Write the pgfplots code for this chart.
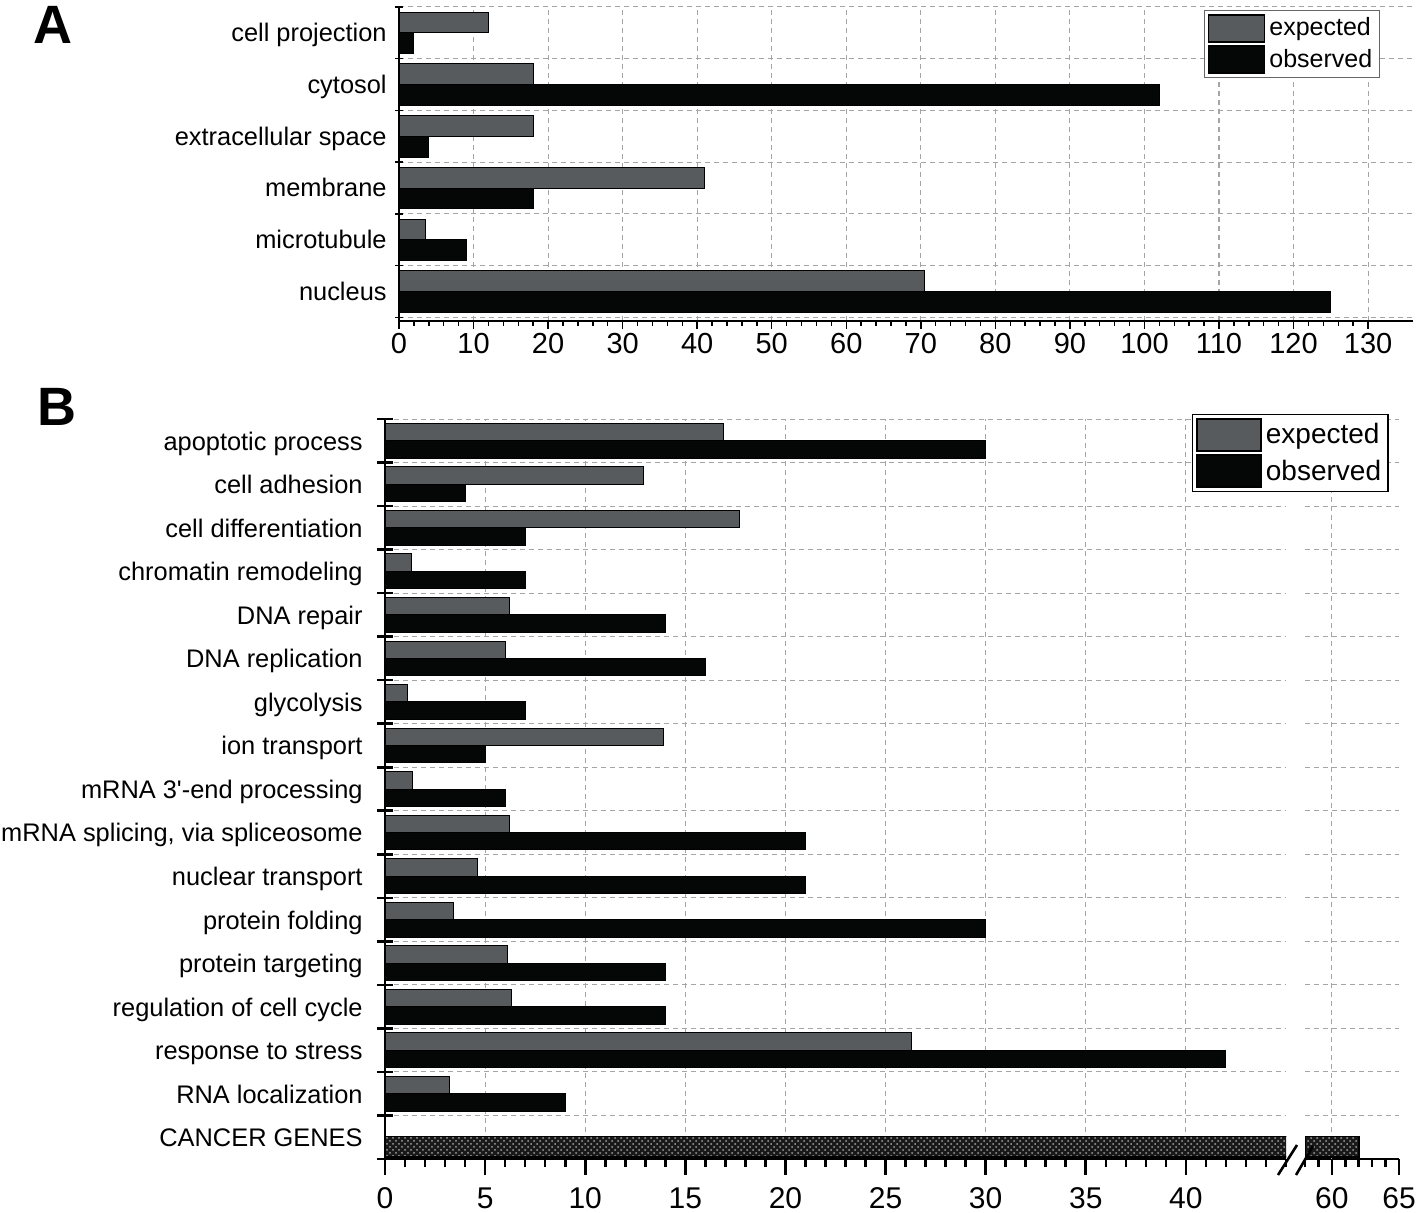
\documentclass[border=0pt]{standalone}
\usepackage{pgfplots}
\pgfplotsset{compat=1.18}
\usepackage{fontspec}
\setmainfont{Liberation Sans}
\usetikzlibrary{patterns}
\definecolor{expgray}{RGB}{88,91,93}
\definecolor{obsblack}{RGB}{5,7,7}
\definecolor{gridgray}{RGB}{165,165,165}
\pgfplotsset{
  legA/.style={legend image code/.code={\draw[##1, line width=0.9pt] (0pt,-6.8pt) rectangle (28pt,6.8pt);}},
  legB/.style={legend image code/.code={\draw[##1, line width=1.1pt] (0pt,-8pt) rectangle (32pt,8pt);}},
  common/.style={
    scale only axis, enlargelimits=false,
    axis x line*=bottom, axis y line*=left,
    xtick align=outside, ytick align=center,
    /pgf/number format/assume math mode=true,
    grid style={dash pattern=on 2.5pt off 2pt, gridgray, line width=0.5pt},
  },
}
\begin{document}
\begin{tikzpicture}
\useasboundingbox (0,0) rectangle (709pt,-606.5pt);
% ---------------- Panel A ----------------
\begin{axis}[common,
  at={(199.5pt,-160.5pt)}, anchor=south west,
  width=506.9pt, height=157pt,
  xmin=0, xmax=136, ymin=-5.57, ymax=0.5,
  axis line style={-, line width=0.75pt, black},
  tick style={black, line width=0.75pt},
  major tick length=4pt, minor tick length=2.5pt,
  xtick={0,10,...,130}, minor x tick num=4,
  ytick={-5.5,-4.5,...,0.5},
  yticklabels={{}, nucleus, microtubule, membrane, extracellular space, cytosol, cell projection},
  yticklabel style={font=\fontsize{12.7}{15}\selectfont, anchor=base east, inner sep=0pt, yshift=-17.4pt, xshift=-4pt},
  xticklabel style={font=\fontsize{14.5}{17}\selectfont, anchor=north, inner sep=0pt, yshift=-2pt},
  xmajorgrids, ymajorgrids,
  legend style={at={(rel axis cs:0.794,0.99)}, anchor=north west, draw=black!60, line width=0.6pt,
     inner sep=1.5pt, font=\fontsize{12.5}{14}\selectfont, row sep=1.2pt},
  legend cell align=left,
]
\addplot[xbar, bar width=0.4, bar shift=0.2, fill=expgray, draw=black, line width=0.5pt, legA]
  coordinates {(12,0) (18,-1) (18.1,-2) (41,-3) (3.5,-4) (70.5,-5)};
\addlegendentry{expected}
\addplot[xbar, bar width=0.4, bar shift=-0.2, fill=obsblack, draw=black, line width=0.5pt, legA]
  coordinates {(2,0) (102,-1) (4,-2) (18,-3) (9,-4) (125,-5)};
\addlegendentry{observed}
\end{axis}
% ---------------- Panel B, right segment ----------------
\begin{axis}[common,
  at={(652.5pt,-579.5pt)}, anchor=south west,
  width=47pt, height=370pt,
  xmin=58, xmax=65, ymin=-16.5, ymax=0.5,
  axis line style={-, line width=1.3pt, black},
  y axis line style={draw=none},
  tick style={black, line width=1.3pt},
  ytick style={draw=none},
  major tick length=8pt, minor tick length=4pt,
  xtick={60,65}, minor xtick={58,59,...,65},
  ytick={-16.5,-15.5,...,0.5}, yticklabels={},
  xticklabel style={font=\fontsize{15}{18}\selectfont, anchor=north, inner sep=0pt, yshift=-6pt},
  ymajorgrids,
  extra x ticks={60}, extra x tick labels={}, extra x tick style={grid=major},
]
\addplot[xbar, bar width=0.48, bar shift=-0.22, fill=black!90, draw=black, line width=0.8pt,
  postaction={pattern=crosshatch dots, pattern color=gray!75}]
  coordinates {(62,-16)};
\end{axis}
% ---------------- Panel B, left segment ----------------
\begin{axis}[common,
  at={(192.5pt,-579.5pt)}, anchor=south west,
  width=450.5pt, height=370pt,
  xmin=0, xmax=45, ymin=-16.5, ymax=0.5,
  axis line style={-, line width=1.3pt, black},
  tick style={black, line width=1.3pt},
  major tick length=8pt, minor tick length=4pt,
  xtick={0,5,...,40}, minor xtick={0,1,...,45},
  ytick={-16.5,-15.5,...,0.5},
  yticklabels={{}, CANCER GENES, RNA localization, response to stress, regulation of cell cycle,
    protein targeting, protein folding, nuclear transport, {mRNA splicing, via spliceosome},
    mRNA 3\textquotesingle-end processing, ion transport, glycolysis, DNA replication, DNA repair,
    chromatin remodeling, cell differentiation, cell adhesion, apoptotic process},
  yticklabel style={font=\fontsize{12.7}{15}\selectfont, anchor=base east, inner sep=0pt, yshift=-15.6pt, xshift=-7pt},
  xticklabel style={font=\fontsize{15}{18}\selectfont, anchor=north, inner sep=0pt, yshift=-6pt},
  xmajorgrids, ymajorgrids,
  legend style={at={(rel axis cs:0.8957,1.0068)}, anchor=north west, draw=black, line width=0.7pt,
     inner sep=1.5pt, font=\fontsize{14}{16}\selectfont, row sep=1.2pt},
  legend cell align=left,
]
\addplot[xbar, bar width=0.4, bar shift=0.2, fill=expgray, draw=black, line width=0.5pt, legB]
  coordinates {(16.9,0) (12.9,-1) (17.7,-2) (1.3,-3) (6.2,-4) (6.0,-5) (1.1,-6) (13.9,-7)
  (1.35,-8) (6.2,-9) (4.6,-10) (3.4,-11) (6.1,-12) (6.3,-13) (26.3,-14) (3.2,-15)};
\addlegendentry{expected}
\addplot[xbar, bar width=0.4, bar shift=-0.2, fill=obsblack, draw=black, line width=0.5pt, legB]
  coordinates {(30,0) (4,-1) (7,-2) (7,-3) (14,-4) (16,-5) (7,-6) (5,-7)
  (6,-8) (21,-9) (21,-10) (30,-11) (14,-12) (14,-13) (42,-14) (9,-15)};
\addlegendentry{observed}
\addplot[xbar, bar width=0.48, bar shift=-0.22, fill=black!90, draw=black, line width=0.8pt,
  postaction={pattern=crosshatch dots, pattern color=gray!75}, forget plot]
  coordinates {(62,-16)};
\end{axis}
% axis break marks
\draw[line width=1.3pt] (639pt,-587.5pt) -- (648.5pt,-572.5pt);
\draw[line width=1.3pt] (648pt,-587.5pt) -- (656.5pt,-573pt);
% panel letters
\node[anchor=north west, inner sep=0pt, font=\bfseries\fontsize{27}{30}\selectfont] at (16.5pt,-3pt) {A};
\node[anchor=north west, inner sep=0pt, font=\bfseries\fontsize{27}{30}\selectfont] at (18.5pt,-194pt) {B};
\end{tikzpicture}
\end{document}
